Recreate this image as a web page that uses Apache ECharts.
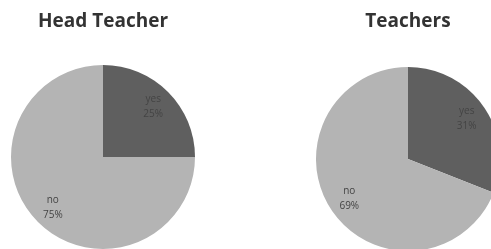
<!DOCTYPE html>
<html lang="en">
<head>
    <meta charset="UTF-8">
    <title>Head Teacher vs Teachers</title>
    <script src="https://cdn.jsdelivr.net/npm/echarts@6/dist/echarts.min.js"></script>
    <style>
        html, body { margin: 0; padding: 0; background: #fff; }
        #main { width: 491px; height: 249px; }
    </style>
</head>
<body>
<div id="main"></div>
<script>
    // answers
    const answers = ['yes', 'no'];
    const headTeacher = [25, 75];
    const teachers = [31, 69];
    const chartTitles = ['Head Teacher', 'Teachers'];
    const sliceColors = ['#5f5f5f', '#b4b4b4'];

    const chart = echarts.init(document.getElementById('main'));

    function toData(values) {
        return answers.map((name, i) => ({ name: name, value: values[i] }));
    }

    // full pie, no labels
    function pieSeries(values, center) {
        return {
            type: 'pie',
            center: center,
            radius: 92,
            startAngle: 90,
            clockwise: true,
            silent: true,
            data: toData(values),
            color: sliceColors,
            label: { show: false },
            labelLine: { show: false }
        };
    }

    // transparent ring, only used to put labels further out
    function labelSeries(values, center) {
        return {
            type: 'pie',
            center: center,
            radius: [44, 92],
            startAngle: 90,
            clockwise: true,
            silent: true,
            data: toData(values),
            itemStyle: { color: 'rgba(0,0,0,0)' },
            label: {
                show: true,
                position: 'inside',
                formatter: '{b}\n{d}%',
                color: '#444',
                fontSize: 10,
                lineHeight: 15,
                fontFamily: 'Open Sans'
            },
            labelLine: { show: false }
        };
    }

    const titleStyle = { fontFamily: 'Open Sans', fontWeight: 'bold', fontSize: 19, color: '#333' };

    const option = {
        animation: false,
        title: [
            { text: chartTitles[0], left: 98, top: 7, textAlign: 'center', textStyle: titleStyle },
            { text: chartTitles[1], left: 403, top: 7, textAlign: 'center', textStyle: titleStyle }
        ],
        series: [
            pieSeries(headTeacher, [103, 157]),
            pieSeries(teachers, [408, 159]),
            labelSeries(headTeacher, [103, 157]),
            labelSeries(teachers, [408, 159])
        ]
    };

    chart.setOption(option);
</script>
</body>
</html>
